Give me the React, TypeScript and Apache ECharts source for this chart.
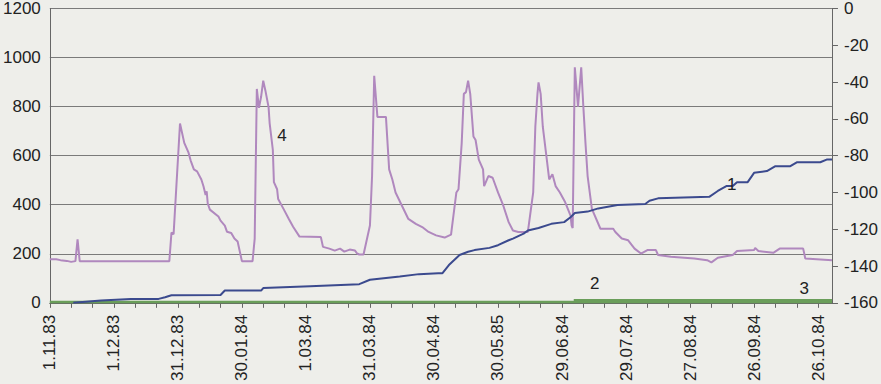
import React, { useEffect, useRef } from "react";
import * as echarts from "echarts";

// X tick labels (every 30 days from 1.11.83)
const xLabels = [
  "1.11.83", "1.12.83", "31.12.83", "30.01.84", "1.03.84", "31.03.84",
  "30.04.84", "30.05.85", "29.06.84", "29.07.84", "27.08.84", "26.09.84", "26.10.84",
];

// Series 1 (blue, left axis): [day, value]
const series1: [number, number][] = [
  [11, 0], [24, 9], [38, 16], [51, 16], [54, 23], [57, 31], [80, 32], [82, 50],
  [99, 50], [100, 60], [122, 68], [145, 76], [150, 94], [164, 107], [173, 117],
  [182, 121], [184, 121], [187, 154], [192, 195], [196, 208], [199, 215],
  [206, 224], [210, 235], [215, 255], [217, 262], [222, 282], [224, 295],
  [229, 305], [235, 322], [241, 329], [244, 349], [246, 366], [252, 372],
  [257, 385], [266, 399], [279, 403], [281, 416], [285, 426], [309, 432],
  [313, 456], [317, 476], [320, 476], [322, 492], [327, 492], [330, 530],
  [336, 537], [340, 557], [347, 557], [350, 573], [361, 573], [364, 584], [366.5, 584],
];

// Series 2 (green, thin, near zero)
const series2: [number, number][] = [[0, 3], [366.5, 3]];

// Series 3 (green, thicker, from late June)
const series3: [number, number][] = [[245.5, 7], [366.5, 7]];

// Series 4 (lavender, left axis): [day, value]
const series4: [number, number][] = [
  [0, 178], [3, 178], [5, 174], [8, 171], [10, 167], [12, 170], [13, 259], [14, 170],
  [56, 170], [57, 286], [58, 280], [61, 731], [63, 652], [65, 612], [66, 580],
  [67.5, 544], [69, 536], [71, 503], [72, 475], [73, 440], [73.5, 455], [74, 405],
  [75, 380], [79, 352], [80, 335], [82, 315], [83, 290], [85, 285], [86.5, 262],
  [88, 250], [90, 170], [95, 170], [96, 262], [97, 872], [98, 795], [99, 840],
  [100, 906], [101, 866], [102.5, 798], [103, 733], [104.5, 624], [105, 492],
  [106.5, 463], [107, 423], [109.5, 383], [112, 342], [114, 310], [117, 270],
  [127, 268], [128, 228], [131, 221], [133.5, 213], [136, 221], [138, 209],
  [140.5, 217], [143, 213], [144, 201], [145, 197], [147, 197], [150, 315],
  [151, 517], [152, 926], [153.5, 758], [157.5, 758], [159, 544], [160.5, 503],
  [162, 450], [165, 396], [168, 342], [171.5, 322], [174.5, 309], [177.5, 289],
  [181, 275], [185, 266], [188, 278], [190.5, 450], [191.5, 463], [193, 651],
  [194, 852], [195, 859], [196, 906], [197, 852], [198.5, 678], [199.5, 664],
  [201, 584], [203, 544], [203.5, 476], [205.5, 517], [207.5, 510], [210, 450],
  [212.5, 396], [215, 329], [217, 295], [219.5, 289], [224, 289], [226.5, 450],
  [227.5, 718], [228.5, 852], [229, 899], [230, 852], [231, 718], [232.5, 611],
  [234, 503], [235.5, 524], [237, 476], [239, 450], [241.5, 410], [244, 356],
  [244.5, 315], [245, 305], [246, 960], [247.5, 800], [249, 960], [250, 800],
  [251, 651], [252, 517], [254, 383], [258, 302], [264, 302], [265, 289],
  [268, 262], [271, 255], [274, 221], [277, 201], [280, 215], [284, 215],
  [285, 195], [291, 188], [302, 181], [308, 174], [310, 165], [313, 184],
  [320, 195], [322, 211], [330, 215], [330.5, 224], [332, 211], [339, 204],
  [342, 221], [353, 221], [354, 181], [366.5, 174],
];

// Series label anchors [day, value] on the left axis scale
const labelPos: Record<string, [number, number]> = {
  "1": [319.5, 483],
  "2": [255.3, 80],
  "3": [353.5, 60],
  "4": [108.8, 684],
};

const leftTicks = { min: 0, max: 1200, interval: 200 };
const rightTicks = { min: -160, max: 0, interval: 20 };

const FONT = "Liberation Sans, Arial, sans-serif";

function labelPoint(name: string) {
  return {
    symbol: "circle",
    symbolSize: 1,
    itemStyle: { color: "rgba(0,0,0,0)" },
    label: {
      show: true,
      position: "inside",
      formatter: name,
      color: "#222",
      fontSize: 17,
      fontFamily: FONT,
    },
    data: [{ coord: labelPos[name] }],
  };
}

export default function App() {
  const ref = useRef<HTMLDivElement>(null);
  useEffect(() => {
    if (!ref.current) return;
    const chart = echarts.init(ref.current, null, { renderer: "svg" });
    chart.setOption({
      animation: false,
      backgroundColor: "#eeeeea",
      grid: { left: 48, right: 45, top: 7, bottom: 79, containLabel: false },
      xAxis: {
        type: "value",
        min: 0,
        max: 366.5,
        interval: 10,
        axisLine: { show: true, lineStyle: { color: "#666", width: 1 } },
        axisTick: { show: true, length: 5, lineStyle: { color: "#666" } },
        splitLine: { show: false },
        axisLabel: {
          rotate: 90,
          fontSize: 17,
          fontFamily: FONT,
          color: "#222",
          margin: 12,
          showMaxLabel: false,
          formatter: (v: number) =>
            Math.round(v) % 30 === 0 ? xLabels[Math.round(v) / 30] ?? "" : "",
        },
      },
      yAxis: [
        {
          type: "value",
          position: "left",
          ...leftTicks,
          axisLine: { show: true, lineStyle: { color: "#666", width: 1 } },
          axisTick: { show: false },
          splitLine: { show: true, lineStyle: { color: "#7a7a7a", width: 1 } },
          axisLabel: {
            fontSize: 17,
            fontFamily: FONT,
            color: "#222",
            margin: 9,
            formatter: (v: number) => String(v),
          },
        },
        {
          type: "value",
          position: "right",
          ...rightTicks,
          axisLine: { show: true, lineStyle: { color: "#666", width: 1 } },
          axisTick: { show: true, length: 6, lineStyle: { color: "#666" } },
          splitLine: { show: false },
          axisLabel: {
            fontSize: 17,
            fontFamily: FONT,
            color: "#222",
            margin: 12,
            formatter: (v: number) => String(v),
          },
        },
      ],
      series: [
        {
          name: "2",
          type: "line",
          data: series2,
          showSymbol: false,
          lineStyle: { color: "#6a9e5a", width: 2.5 },
          z: 3,
          markPoint: labelPoint("2"),
        },
        {
          name: "3",
          type: "line",
          data: series3,
          showSymbol: false,
          lineStyle: { color: "#6a9e5a", width: 4 },
          z: 3,
          markPoint: labelPoint("3"),
        },
        {
          name: "4",
          type: "line",
          data: series4,
          showSymbol: false,
          lineStyle: { color: "#b088be", width: 2 },
          z: 2,
          markPoint: labelPoint("4"),
        },
        {
          name: "1",
          type: "line",
          data: series1,
          showSymbol: false,
          lineStyle: { color: "#3b4a8e", width: 2 },
          z: 4,
          markPoint: labelPoint("1"),
        },
      ],
    });
    return () => chart.dispose();
  }, []);
  return (
    <div
      ref={ref}
      style={{ position: "fixed", left: 0, top: 0, width: 881, height: 384 }}
    />
  );
}
